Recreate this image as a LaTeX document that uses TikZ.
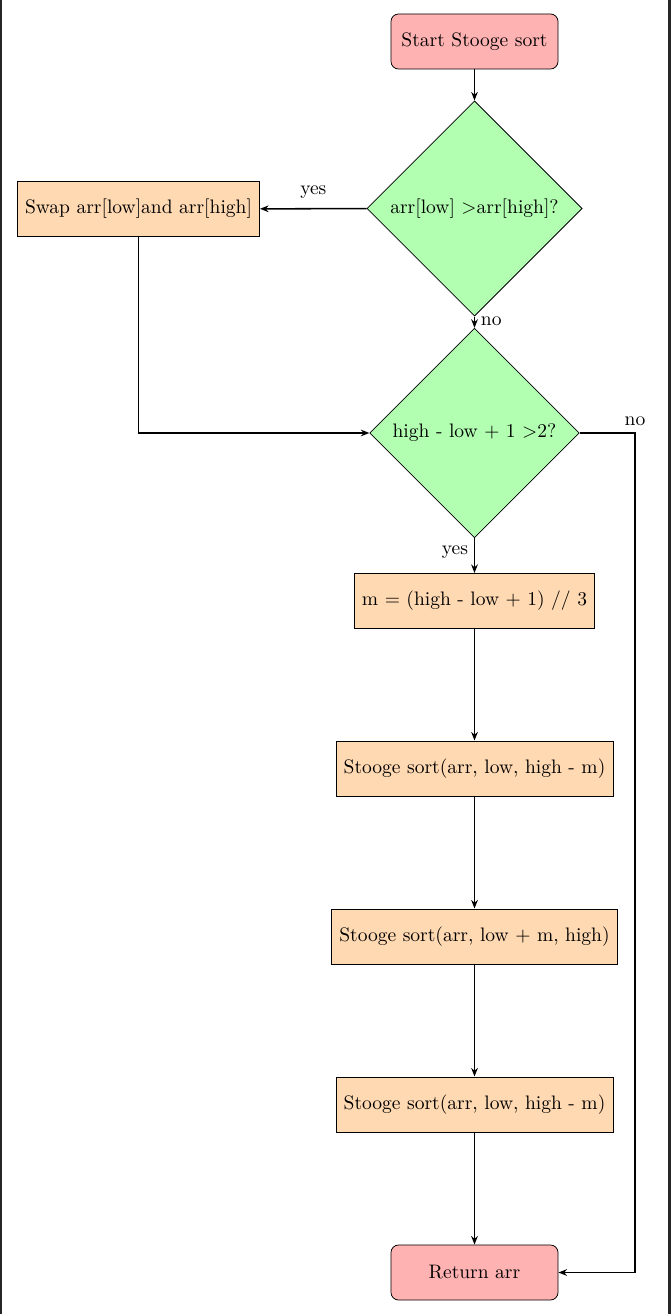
\documentclass[tikz,border=0pt]{standalone}
\usetikzlibrary{shapes.geometric,arrows.meta}
\begin{document}
\begin{tikzpicture}[x=0.525pt,y=-0.525pt,
  every node/.style={font=\fontsize{10.25pt}{12pt}\selectfont},
  term/.style={draw, rounded corners=4pt, fill=red!30, minimum width=87.7pt, minimum height=28.9pt, inner sep=0pt},
  proc/.style={draw, fill=orange!30, minimum height=29pt, inner xsep=4pt, inner ysep=0pt},
  dec/.style={draw, diamond, aspect=1, fill=green!30, inner sep=0pt},
  conn/.style={thick, -{Stealth[length=4.5pt,width=3.5pt]}},
  lbl/.style={inner sep=1pt}]
\useasboundingbox (0,0) rectangle (671,1314);
\draw[line width=1.1pt, black!85] (0.6,0) -- (0.6,1314);
\draw[line width=1.6pt, black!85] (669.5,0) -- (669.5,1314);

\node[term] (start) at (474.5,41.5) {Start Stooge sort};
\node[dec, minimum width=113pt, minimum height=113pt] (d1) at (474.5,208.5) {arr[low] >arr[high]?};
\node[proc, minimum width=126.5pt] (swap) at (138.5,209) {Swap arr[low]and arr[high]};
\node[dec, minimum width=110pt, minimum height=110pt] (d2) at (474.5,433) {high - low + 1 >2?};
\node[proc, minimum width=126pt] (m) at (474.5,601) {m = (high - low + 1) // 3};
\node[proc, minimum width=145pt] (s1) at (474.5,768.5) {Stooge sort(arr, low, high - m)};
\node[proc, minimum width=150pt] (s2) at (474.5,936.5) {Stooge sort(arr, low + m, high)};
\node[proc, minimum width=145pt] (s3) at (474.5,1104.5) {Stooge sort(arr, low, high - m)};
\node[term] (ret) at (474.5,1272.5) {Return arr};
\coordinate (c1) at (635,433);
\coordinate (c2) at (635,1272.5);

\draw[conn] (start) -- (d1);
\draw[conn] (d1) -- node[lbl, above=4pt, pos=0.5] {yes} (swap);
\draw[conn] (d1) -- node[lbl, right=2pt, pos=0.45] {no} (d2);
\draw[conn] (swap.south) |- (d2.west);
\draw[conn] (d2) -- node[lbl, left=2pt, pos=0.4] {yes} (m);
\draw[conn] (d2.east) -- (c1) -- (c2) -- (ret.east);
\node[lbl, above=2.5pt] (nolbl) at (c1) {no};
\draw[conn] (m) -- (s1);
\draw[conn] (s1) -- (s2);
\draw[conn] (s2) -- (s3);
\draw[conn] (s3) -- (ret);
\end{tikzpicture}
\end{document}
